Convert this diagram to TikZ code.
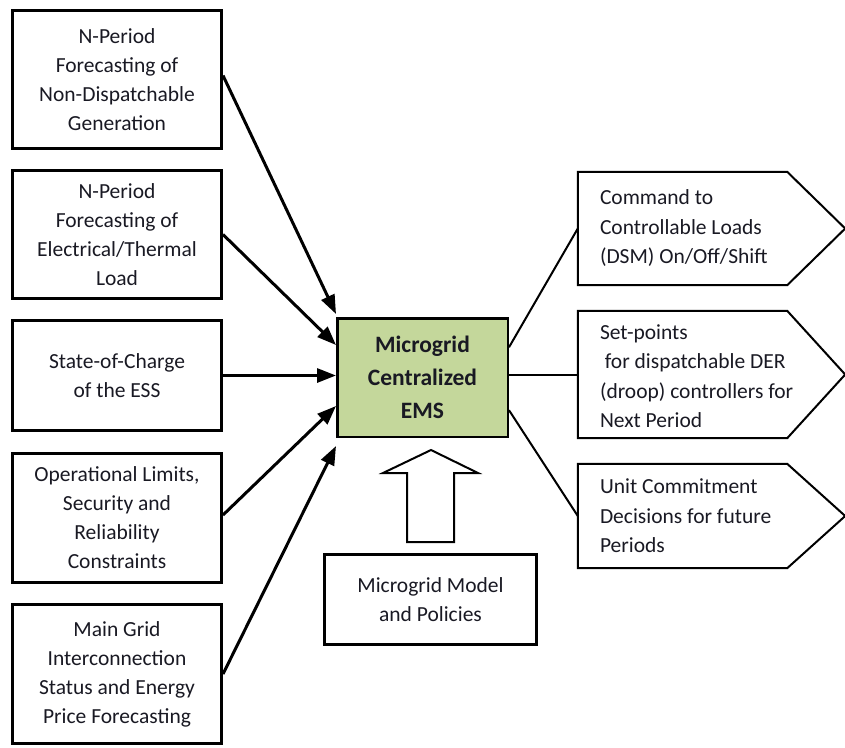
\documentclass[tikz,border=0pt]{standalone}
\usepackage{fontspec}
\setmainfont{Carlito}
\usetikzlibrary{arrows.meta,calc}
\definecolor{inkdark}{RGB}{25,25,35}
\definecolor{emsgreen}{RGB}{196,215,155}
\tikzset{
  inbox/.style={draw=black, line width=3pt, inner sep=0pt, minimum width=209pt,
    align=center, text=inkdark, font=\fontsize{21.5}{29}\selectfont},
  emsbox/.style={draw=black, line width=2.5pt, fill=emsgreen, inner sep=0pt,
    minimum width=170.5pt, minimum height=118.5pt, align=center, text=inkdark,
    font=\fontsize{23.5}{33}\selectfont\bfseries},
  outshape/.style={inner sep=0pt, minimum width=209pt},
  outtext/.style={anchor=west, inner sep=0pt, align=left, text=inkdark,
    font=\fontsize{21.5}{29.5}\selectfont},
  outline/.style={draw=black, line width=2pt, line join=miter},
  feed/.style={draw=black, line width=3pt, -{Triangle[length=19pt,width=14pt]}},
  link/.style={draw=black, line width=2pt},
}
\begin{document}
\begin{tikzpicture}[x=1pt, y=-1pt]
\useasboundingbox (0,0) rectangle (845,747);

% input boxes
\node[inbox, minimum height=138pt] (s1) at (117,79.5)
  {N-Period\\Forecasting of\\Non-Dispatchable\\Generation};
\node[inbox, minimum height=128pt] (s2) at (117,234.5)
  {N-Period\\Forecasting of\\Electrical/Thermal\\Load};
\node[inbox, minimum height=110pt] (s3) at (117,375.5)
  {State-of-Charge\\of the ESS};
\node[inbox, minimum height=129pt] (s4) at (117,518)
  {Operational Limits,\\Security and\\Reliability\\Constraints};
\node[inbox, minimum height=139pt] (s5) at (117,674)
  {Main Grid\\Interconnection\\Status and Energy\\Price Forecasting};

% central EMS
\node[emsbox] (ems) at (422.5,377.5) {Microgrid\\Centralized\\EMS};

% model box below
\node[inbox, minimum width=212pt, minimum height=90pt] (mm) at (430.5,599.5)
  {Microgrid Model\\and Policies};

% hollow block arrow up into the EMS
\draw[outline] (407,542) -- (407,473) -- (383,473) -- (431,450) -- (478,473)
  -- (454,473) -- (454,542) -- cycle;

% output shapes (rectangle part as node, pointer drawn around it)
\node[outshape, minimum height=113pt] (c1) at (682.5,228.5) {};
\node[outshape, minimum height=127pt] (c2) at (682.5,374.5) {};
\node[outshape, minimum height=104pt] (c3) at (682.5,516) {};
\foreach \c in {c1,c2,c3}{
  \draw[outline] (\c.north west) -- (\c.north east) -- ($(\c.east)+(58,0)$)
    -- (\c.south east) -- (\c.south west) -- cycle;
}
\node[outtext] (c1t) at ($(c1.west)+(22,0)$)
  {Command to\\Controllable Loads\\(DSM) On/Off/Shift};
\node[outtext] (c2t) at ($(c2.west)+(22,1.5)$)
  {Set-points\\\ for dispatchable DER\\(droop) controllers for\\Next Period};
\node[outtext] (c3t) at ($(c3.west)+(22,0)$)
  {Unit Commitment\\Decisions for future\\Periods};

% input arrows
\draw[feed] ($(s1.east)+(0,-4)$) -- ($(ems.north west)+(0,-3)$);
\draw[feed] (s2.east) -- ($(ems.west)+(0,-32.5)$);
\draw[feed] (s3.east) -- (ems.west |- s3.east);
\draw[feed] ($(s4.east)+(0,-3)$) -- ($(ems.west)+(0,28.5)$);
\draw[feed] (s5.east) -- ($(ems.south west)+(0,8)$);

% output links
\draw[link] ($(ems.north east)!0.25!(ems.south east)$) -- (c1.west);
\draw[link] (ems.east |- c2.west) -- (c2.west);
\draw[link] ($(ems.north east)!0.77!(ems.south east)$) -- (c3.west);
\end{tikzpicture}
\end{document}
